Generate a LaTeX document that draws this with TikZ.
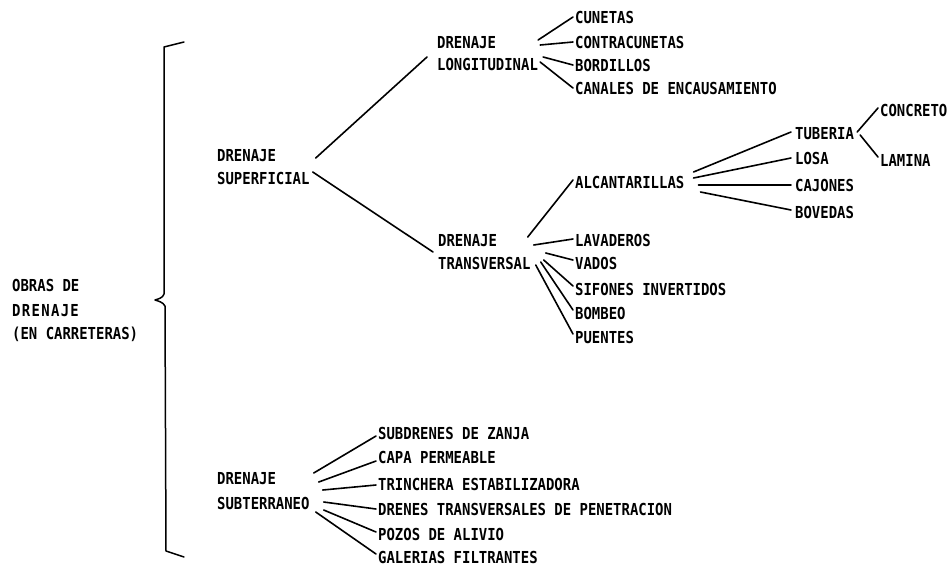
\documentclass[tikz,border=0pt]{standalone}
\usepackage{fontspec}
\newfontfamily\tw[FakeStretch=0.845]{DejaVu Sans Mono Bold}
\usetikzlibrary{calc}
\begin{document}
\begin{tikzpicture}[x=1pt,y=-1pt,
  lbl/.style={anchor=west, inner xsep=2pt, inner ysep=0pt, text height=12pt, text depth=0pt, font={\tw\fontsize{16.5}{19}\selectfont}},
  conn/.style={line width=1.6pt, line cap=round},
  bracestyle/.style={line width=1.5pt, line join=round, line cap=round}]
\useasboundingbox (0,0) rectangle (951,566);

% root label
\node[lbl] (ob1) at (10,285) {OBRAS DE};
\node[lbl] (ob2) at (10,310) {\addfontfeature{LetterSpace=8}DRENAJE};
\node[lbl] (ob3) at (10,333) {(EN CARRETERAS)};

% brace
\draw[bracestyle] (184,42) -- (164,47) -- (164,294)
  .. controls (163,298) and (158,299) .. (155,300)
  .. controls (158,301) and (163,302) .. (165,306)
  -- (166,551) -- (184,557);

% level 1
\node[lbl] (sup1) at (215,155) {DRENAJE};
\node[lbl] (sup2) at (215,178) {SUPERFICIAL};
\node[lbl] (sub1) at (215,478) {DRENAJE};
\node[lbl] (sub2) at (215,503) {SUBTERRANEO};

% level 2
\node[lbl] (lon1) at (435,42) {DRENAJE};
\node[lbl] (lon2) at (435,64) {LONGITUDINAL};
\node[lbl] (tra1) at (436,240) {DRENAJE};
\node[lbl] (tra2) at (436,263) {TRANSVERSAL};

\draw[conn] ($(sup2.east)+(4,-20)$) -- ($(lon2.west)+(-8,-7)$);
\draw[conn] ($(sup2.east)+(1,-6)$) -- ($(tra2.west)+(-3,-11)$);

% longitudinal children
\node[lbl] (cun) at (573,17) {CUNETAS};
\node[lbl] (con) at (573,42) {CONTRACUNETAS};
\node[lbl] (bor) at (573,65) {BORDILLOS};
\node[lbl] (can) at (573,88) {CANALES DE ENCAUSAMIENTO};
\draw[conn] ($(lon2.east)+(-2,-24)$) -- (cun.west);
\draw[conn] ($(lon2.east)+(0,-19)$) -- (con.west);
\draw[conn] ($(lon2.east)+(3,-7)$) -- (bor.west);
\draw[conn] ($(lon2.east)+(0,-2)$) -- (can.west);

% transversal children
\node[lbl] (alc) at (573,182) {ALCANTARILLAS};
\node[lbl] (lav) at (573,240) {LAVADEROS};
\node[lbl] (vad) at (573,263) {VADOS};
\node[lbl] (sif) at (573,289) {SIFONES INVERTIDOS};
\node[lbl] (bom) at (573,313) {BOMBEO};
\node[lbl] (pue) at (573,337) {PUENTES};
\draw[conn] ($(tra2.east)+(-5,-26)$) -- ($(alc.west)+(0,-2)$);
\draw[conn] ($(tra2.east)+(1,-18)$) -- ($(lav.west)+(0,-1)$);
\draw[conn] ($(tra2.east)+(13,-10)$) -- ($(vad.west)+(0,-3)$);
\draw[conn] ($(tra2.east)+(11,-3)$) -- ($(sif.west)+(0,-3)$);
\draw[conn] ($(tra2.east)+(8,-1)$) -- ($(bom.west)+(0,-3)$);
\draw[conn] ($(tra2.east)+(3,2)$) -- ($(pue.west)+(0,-3)$);

% alcantarillas children
\node[lbl] (tub) at (793,133) {TUBERIA};
\node[lbl] (los) at (793,158) {LOSA};
\node[lbl] (caj) at (793,185) {CAJONES};
\node[lbl] (bov) at (793,212) {BOVEDAS};
\draw[conn] ($(alc.east)+(7,-10)$) -- ($(tub.west)+(-2,-1)$);
\draw[conn] ($(alc.east)+(7,-4)$) -- ($(los.west)+(-2,0)$);
\draw[conn] ($(alc.east)+(12,3)$) -- ($(caj.west)+(-2,0)$);
\draw[conn] ($(alc.east)+(14,10)$) -- ($(bov.west)+(-2,-2)$);

% tuberia children
\node[lbl] (conc) at (878,110) {CONCRETO};
\node[lbl] (lam) at (878,160) {LAMINA};
\draw[conn] ($(tub.east)+(1,-1)$) -- ($(conc.west)+(0,-2)$);
\draw[conn] ($(tub.east)+(4,2)$) -- ($(lam.west)+(0,-3)$);

% subterraneo children
\node[lbl] (s1) at (376,433) {SUBDRENES DE ZANJA};
\node[lbl] (s2) at (376,457) {CAPA PERMEABLE};
\node[lbl] (s3) at (376,484) {TRINCHERA ESTABILIZADORA};
\node[lbl] (s4) at (376,509) {DRENES TRANSVERSALES DE PENETRACION};
\node[lbl] (s5) at (376,534) {POZOS DE ALIVIO};
\node[lbl] (s6) at (376,557) {GALERIAS FILTRANTES};
\draw[conn] ($(sub2.east)+(2,-30)$) -- ($(s1.west)+(0,3)$);
\draw[conn] ($(sub2.east)+(7,-21)$) -- ($(s2.west)+(0,4)$);
\draw[conn] ($(sub2.east)+(11,-13)$) -- ($(s3.west)+(0,1)$);
\draw[conn] ($(sub2.east)+(12,-1)$) -- (s4.west);
\draw[conn] ($(sub2.east)+(12,7)$) -- ($(s5.west)+(0,-2)$);
\draw[conn] ($(sub2.east)+(4,9)$) -- ($(s6.west)+(0,-3)$);
\end{tikzpicture}
\end{document}
